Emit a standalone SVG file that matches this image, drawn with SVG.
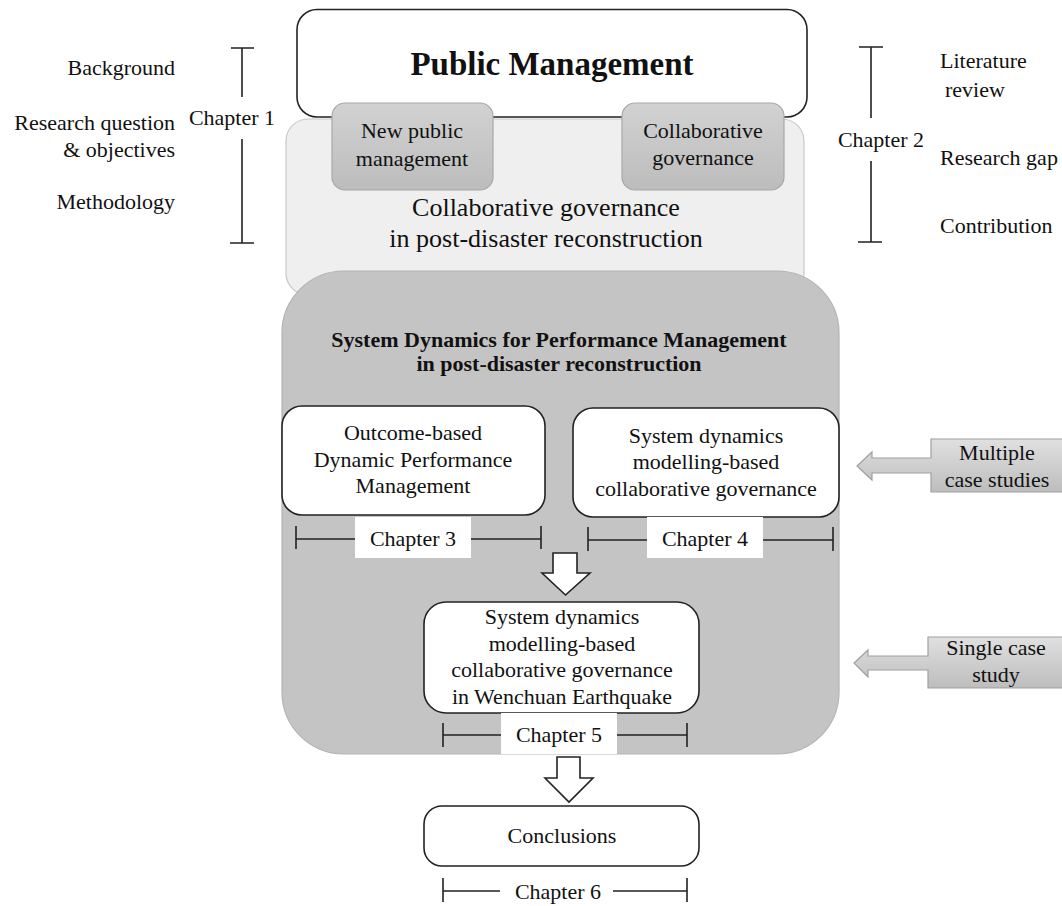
<svg xmlns="http://www.w3.org/2000/svg" width="1062" height="906" viewBox="0 0 1062 906">
  <defs>
    <linearGradient id="gTab" x1="0" y1="0" x2="0" y2="1">
      <stop offset="0" stop-color="#d2d2d2"/>
      <stop offset="1" stop-color="#bcbcbc"/>
    </linearGradient>
    <linearGradient id="gCase" x1="0" y1="0" x2="0" y2="1">
      <stop offset="0" stop-color="#e0e0e0"/>
      <stop offset="1" stop-color="#bdbdbd"/>
    </linearGradient>
  </defs>
  <style>
    text { font-family: "Liberation Serif", "Times New Roman", serif; fill: #111; }
    .lbl { font-size: 22px; }
    .mid { text-anchor: middle; }
    .end { text-anchor: end; }
    .bold { font-weight: bold; }
    .box { fill: #fff; stroke: #222; stroke-width: 1.6; }
    .tab { fill: url(#gTab); stroke: #a8a8a8; stroke-width: 1.2; }
    .brk { fill: none; stroke: #222; stroke-width: 1.6; }
    .blk { fill: #fff; stroke: #222; stroke-width: 1.6; stroke-linejoin: miter; }
    .case { fill: url(#gCase); stroke: #a0a0a0; stroke-width: 1.2; }
    .tag { fill: #fff; }
  </style>

  <rect x="0" y="0" width="1062" height="906" fill="#fff"/>

  <!-- chapter 1 topics -->
  <g id="ch1-topics" class="lbl">
    <text class="lbl end" x="175" y="75">Background</text>
    <text class="lbl end" x="175" y="130">Research question</text>
    <text class="lbl end" x="175" y="157">&amp; objectives</text>
    <text class="lbl end" x="175" y="209">Methodology</text>
    <text class="lbl mid" x="232" y="125">Chapter 1</text>
  </g>

  <!-- chapter 2 topics -->
  <g id="ch2-topics">
    <text class="lbl" x="940" y="68">Literature</text>
    <text class="lbl" x="945" y="97">review</text>
    <text class="lbl" x="940" y="165">Research gap</text>
    <text class="lbl" x="940" y="233">Contribution</text>
    <text class="lbl mid" x="881" y="147">Chapter 2</text>
  </g>

  <!-- collaborative governance band -->
  <g id="node-cg-reconstruction">
    <rect x="286" y="119" width="518" height="176" rx="22" fill="#efefef" stroke="#c8c8c8" stroke-width="1.2"/>
    <text class="mid" x="546" y="216" font-size="26">Collaborative governance</text>
    <text class="mid" x="546" y="247" font-size="26">in post-disaster reconstruction</text>
  </g>

  <!-- public management -->
  <g id="node-public-management">
    <rect class="box" x="297" y="9.5" width="510" height="107.5" rx="20"/>
    <text class="mid bold" x="552" y="75" font-size="33">Public Management</text>
  </g>

  <g id="node-npm">
    <rect class="tab" x="332" y="103" width="161" height="87" rx="13"/>
    <text class="lbl mid" x="412" y="138">New public</text>
    <text class="lbl mid" x="412" y="166">management</text>
  </g>

  <g id="node-collab-gov">
    <rect class="tab" x="622" y="103" width="162" height="87" rx="13"/>
    <text class="lbl mid" x="703" y="138">Collaborative</text>
    <text class="lbl mid" x="703" y="165">governance</text>
  </g>

  <!-- system dynamics panel -->
  <g id="node-sdpm">
    <rect x="282" y="271" width="557" height="483" rx="62" fill="#c4c4c4" stroke="#b3b3b3" stroke-width="1.2"/>
    <text class="lbl mid bold" x="559" y="347">System Dynamics for Performance Management</text>
    <text class="lbl mid bold" x="559" y="371">in post-disaster reconstruction</text>
  </g>

  <g id="node-outcome-dpm">
    <rect class="box" x="282" y="406" width="263" height="109" rx="20"/>
    <text class="lbl mid" x="413" y="440">Outcome-based</text>
    <text class="lbl mid" x="413" y="467">Dynamic Performance</text>
    <text class="lbl mid" x="413" y="493">Management</text>
  </g>

  <g id="node-sd-collab">
    <rect class="box" x="573" y="408" width="266" height="109" rx="20"/>
    <text class="lbl mid" x="706" y="443">System dynamics</text>
    <text class="lbl mid" x="706" y="469">modelling-based</text>
    <text class="lbl mid" x="706" y="496">collaborative governance</text>
  </g>

  <g id="node-wenchuan">
    <rect class="box" x="424" y="602" width="275" height="111" rx="22"/>
    <text class="lbl mid" x="562" y="624">System dynamics</text>
    <text class="lbl mid" x="562" y="651">modelling-based</text>
    <text class="lbl mid" x="562" y="677">collaborative governance</text>
    <text class="lbl mid" x="562" y="704">in Wenchuan Earthquake</text>
  </g>

  <g id="node-conclusions">
    <rect class="box" x="424" y="806" width="275" height="60" rx="18"/>
    <text class="lbl mid" x="562" y="843">Conclusions</text>
  </g>

  <!-- case study callouts -->
  <g id="node-multiple-cases">
    <path class="case" d="M1064,439 H931 V458 H872 V452 L857,466 L872,480 V473 H931 V492 H1064 Z"/>
    <text class="lbl mid" x="997" y="460">Multiple</text>
    <text class="lbl mid" x="997" y="487">case studies</text>
  </g>

  <g id="node-single-case">
    <path class="case" d="M1064,637 H928 V656 H868 V650 L854,663 L868,677 V670 H928 V688 H1064 Z"/>
    <text class="lbl mid" x="996" y="655">Single case</text>
    <text class="lbl mid" x="996" y="682">study</text>
  </g>

  <!-- connectors: chapter brackets and flow arrows -->
  <g id="connectors">
    <path class="brk" d="M231,48 H254 M242,48 V97 M242,139 V243 M230,243 H254"/>
    <path class="brk" d="M859,47 H883 M871,47 V118 M871,161 V242 M858,242 H882"/>

    <path class="brk" d="M296,526 V549 M296,539 H541 M541,526 V549"/>
    <rect class="tag" x="355" y="517" width="116" height="41"/>
    <text class="lbl mid" x="413" y="546">Chapter 3</text>

    <path class="brk" d="M588,527 V551 M588,540 H833 M833,527 V551"/>
    <rect class="tag" x="647" y="517" width="116" height="41"/>
    <text class="lbl mid" x="705" y="546">Chapter 4</text>

    <path class="brk" d="M443,723 V747 M443,735 H687 M687,723 V747"/>
    <rect class="tag" x="501" y="713" width="116" height="41"/>
    <text class="lbl mid" x="559" y="742">Chapter 5</text>

    <path class="brk" d="M443,878 V902 M443,891 H500 M613,891 H687 M687,878 V902"/>
    <text class="lbl mid" x="558" y="899">Chapter 6</text>

    <polygon class="blk" points="553,553 577,553 577,573 590,573 565.5,595 542,573 553,573"/>
    <polygon class="blk" points="557,757 580,757 580,778 593,778 569,802 545,778 557,778"/>
  </g>
</svg>
